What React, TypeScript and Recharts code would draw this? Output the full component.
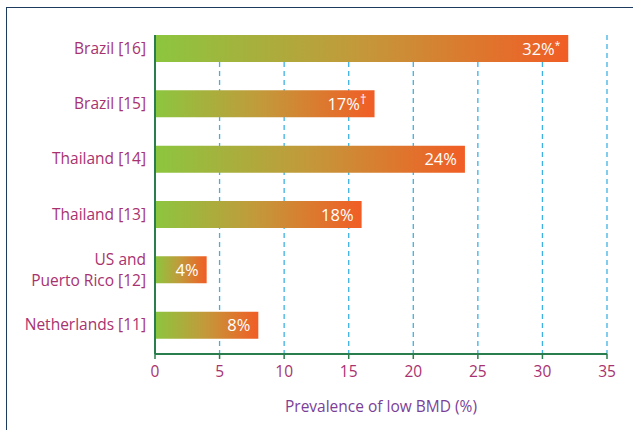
import { BarChart, Bar, XAxis, YAxis, CartesianGrid, LabelList, Label } from "recharts";

const countries = [
  "Brazil [16]",
  "Brazil [15]",
  "Thailand [14]",
  "Thailand [13]",
  "US and\nPuerto Rico [12]",
  "Netherlands [11]",
];
const prevalence = [32, 17, 24, 16, 4, 8];
const valueLabels = ["32%", "17%", "24%", "18%", "4%", "8%"];
const labelMarks = ["*", "†", "", "", "", ""];
const xTicks = [0, 5, 10, 15, 20, 25, 30, 35];

const chartData = countries.map((name, i) => ({
  name,
  value: prevalence[i],
  label: valueLabels[i],
  mark: labelMarks[i],
}));

const FONT = "'Open Sans', 'Noto Sans', sans-serif";
const MAGENTA = "#a8326f";
const AXIS_GREEN = "#2a7d4c";

function CountryTick(props: any) {
  const { x, y, payload } = props;
  const lines = String(payload.value).split("\n");
  const lh = 21;
  const start = -((lines.length - 1) * lh) / 2;
  return (
    <text x={x} y={y} textAnchor="end" fill={MAGENTA} fontSize={15.5} fontFamily={FONT}>
      {lines.map((line, i) => (
        <tspan key={i} x={x} y={y + start + i * lh + 5}>
          {line}
        </tspan>
      ))}
    </text>
  );
}

function BarValueLabel(props: any) {
  const { x, y, width, height, index } = props;
  const row = chartData[index];
  const markSize = row.mark === "†" ? 13 : 10;
  return (
    <text
      x={x + width - 8}
      y={y + height / 2 + 6}
      textAnchor="end"
      fill="#ffffff"
      fontSize={16.5}
      fontFamily={FONT}
    >
      {row.label}
      {row.mark ? (
        <tspan dy={-6} fontSize={markSize}>
          {row.mark}
        </tspan>
      ) : null}
    </text>
  );
}

export default function App() {
  return (
    <div
      style={{
        position: "absolute",
        left: 0,
        top: 0,
        width: 633,
        height: 430,
        background: "#fff",
        overflow: "hidden",
      }}
    >
      <div
        style={{
          position: "absolute",
          left: 6,
          top: 7,
          width: 627,
          height: 423,
          borderLeft: "1.5px solid #1c3b5e",
          borderTop: "1.5px solid #1c3b5e",
        }}
      />
      <BarChart
        width={633}
        height={430}
        data={chartData}
        layout="vertical"
        margin={{ top: 35, right: 26, bottom: 0, left: 0 }}
        style={{ position: "absolute", left: 0, top: 0 }}
      >
        <defs>
          <linearGradient id="barGrad" x1="0" y1="0" x2="1" y2="0">
            <stop offset="0%" stopColor="#8cc63f" />
            <stop offset="50%" stopColor="#c4983a" />
            <stop offset="100%" stopColor="#f15d25" />
          </linearGradient>
        </defs>
        <CartesianGrid
          horizontal={false}
          stroke="#3cb2e4"
          strokeWidth={1.3}
          strokeDasharray="5 4"
        />
        <XAxis
          type="number"
          domain={[0, 35]}
          ticks={xTicks}
          interval={0}
          height={76}
          axisLine={{ stroke: AXIS_GREEN, strokeWidth: 2 }}
          tickLine={{ stroke: AXIS_GREEN, strokeWidth: 1.5 }}
          tickSize={5}
          tickMargin={7}
          tick={{ fill: MAGENTA, fontSize: 15.5, fontFamily: FONT }}
        >
          <Label
            value="Prevalence of low BMD (%)"
            position="insideBottom"
            offset={18}
            fill="#7b3f98"
            fontSize={15.5}
            fontFamily={FONT}
          />
        </XAxis>
        <YAxis
          type="category"
          dataKey="name"
          width={155}
          padding={{ top: -14, bottom: 1 }}
          axisLine={{ stroke: AXIS_GREEN, strokeWidth: 2 }}
          tickLine={false}
          tickSize={0}
          tickMargin={9}
          tick={<CountryTick />}
        />
        <Bar dataKey="value" barSize={27} fill="url(#barGrad)" isAnimationActive={false}>
          <LabelList dataKey="label" content={<BarValueLabel />} />
        </Bar>
      </BarChart>
    </div>
  );
}
